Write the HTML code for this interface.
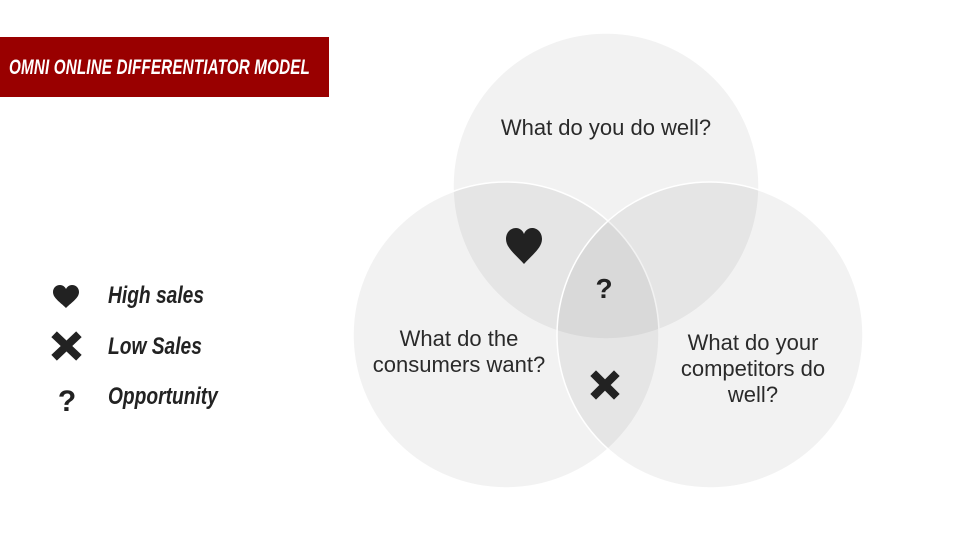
<!DOCTYPE html>
<html><head><meta charset="utf-8"><style>
body{margin:0;width:960px;height:540px;background:#fff;overflow:hidden;position:relative;font-family:"Liberation Sans",sans-serif}
.title{position:absolute;left:0;top:37px;width:329px;height:60px;background:#990000}
.title span{position:absolute;left:9px;top:19px;color:#fff;font-weight:bold;font-style:italic;font-size:21px;white-space:nowrap;transform:scaleX(0.725);transform-origin:left top;letter-spacing:0.2px}
.leg{position:absolute;left:108px;font-weight:bold;font-style:italic;font-size:24px;color:#222;transform:scaleX(0.8);transform-origin:left top;white-space:nowrap}
.lab{position:absolute;font-size:22px;color:#2a2a2a;text-align:center;line-height:26px}
</style></head><body>
<div class="title"><span>OMNI ONLINE DIFFERENTIATOR MODEL</span></div>
<svg width="960" height="540" style="position:absolute;left:0;top:0">
<g fill="#000" fill-opacity="0.05" stroke="#fff" stroke-width="1.5">
<circle cx="606" cy="186" r="153"/>
<circle cx="506" cy="335" r="153"/>
<circle cx="710" cy="335" r="153"/>
</g>
<g fill="#222">
<path d="M524 264 C516 255 506 248 506 239 C506 232 511 228 516 228 C520 228 523 231 524 234 C525 231 528 228 532 228 C537 228 542 232 542 239 C542 248 532 255 524 264Z"/>
<path d="M66 308 C60 302 53 298 53 292 C53 288 56 285 60 285 C63 285 65 287 66 289 C67 287 69 285 72 285 C76 285 79 288 79 292 C79 298 72 302 66 308Z"/>
<g stroke="#222" stroke-width="8" stroke-linecap="square"><path d="M596 376 L614 394 M614 376 L596 394"/><path d="M57 337 L76 355 M76 337 L57 355"/></g>
</g>
<text x="604" y="298" font-family="Liberation Sans" font-weight="bold" font-size="28" fill="#222" text-anchor="middle">?</text>
<text x="67" y="411" font-family="Liberation Sans" font-weight="bold" font-size="30" fill="#222" text-anchor="middle">?</text>
</svg>
<div class="leg" style="top:282px">High sales</div>
<div class="leg" style="top:333px">Low Sales</div>
<div class="leg" style="top:383px">Opportunity</div>
<div class="lab" style="left:454px;top:115px;width:304px">What do you do well?</div>
<div class="lab" style="left:354px;top:326px;width:210px">What do the<br>consumers want?</div>
<div class="lab" style="left:658px;top:330px;width:190px">What do your<br>competitors do<br>well?</div>
</body></html>
